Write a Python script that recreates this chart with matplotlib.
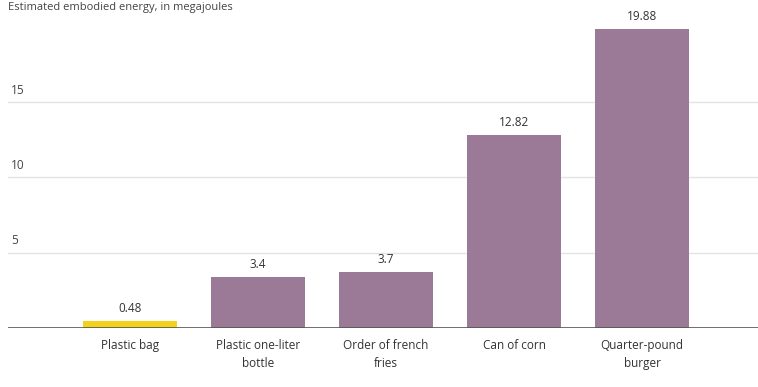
import matplotlib
matplotlib.use("Agg")
from matplotlib import pyplot as plt

# data
items = ["Plastic bag", "Plastic one-liter\nbottle", "Order of french\nfries",
         "Can of corn", "Quarter-pound\nburger"]
energy = [0.48, 3.4, 3.7, 12.82, 19.88]
value_labels = ["0.48", "3.4", "3.7", "12.82", "19.88"]
bar_colors = ["#f2d21a", "#9b7a97", "#9b7a97", "#9b7a97", "#9b7a97"]
y_ticks = [5, 10, 15]

plt.rcParams["font.family"] = ["Open Sans", "DejaVu Sans"]

fig = plt.figure(figsize=(7.58, 3.87), dpi=100)
ax = fig.add_axes([0.0106, 0.1525, 0.9894, 0.778])

x = range(len(items))
ax.bar(x, energy, width=0.74, color=bar_colors, zorder=2)

for xi, v, lab in zip(x, energy, value_labels):
    ax.text(xi, v + 0.4, lab, ha="center", va="bottom", fontsize=8.5, color="#333333")

# gridlines with labels sitting above them
for t in y_ticks:
    ax.axhline(t, color="#e3e3e3", lw=1, zorder=1)
    ax.text(-0.93, t + 0.35, str(t), ha="left", va="bottom", fontsize=8.5, color="#444444")

ax.axhline(0, color="#555555", lw=1.2, zorder=3)

ax.set_xlim(-0.953, 4.906)
ax.set_ylim(0, 20)
ax.set_xticks(list(x))
ax.set_xticklabels(items, fontsize=8.5, color="#333333", linespacing=1.45)
ax.tick_params(axis="x", length=0, pad=8)
ax.set_yticks([])
for s in ax.spines.values():
    s.set_visible(False)

fig.text(0.0106, 1 - 2 / 387, "Estimated embodied energy, in megajoules",
         ha="left", va="top", fontsize=8, color="#444444")

fig.savefig("out.png", dpi=100)
